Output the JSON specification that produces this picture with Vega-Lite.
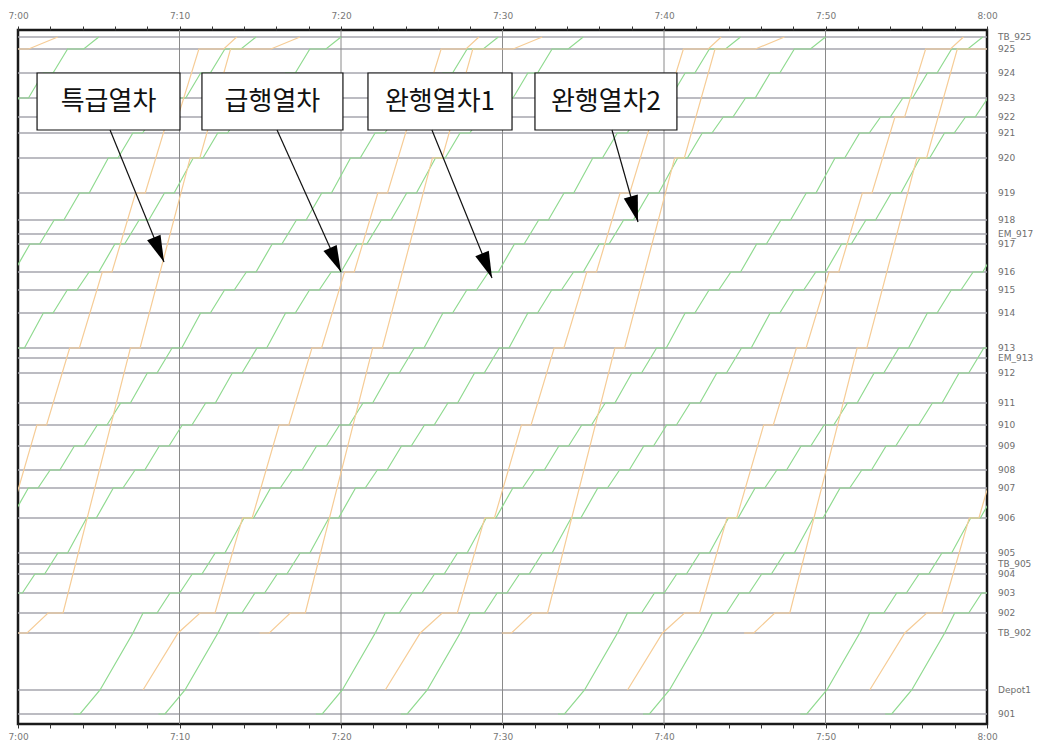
{
  "$schema": "https://vega.github.io/schema/vega-lite/v6.json",
  "width": 969,
  "height": 694,
  "autosize": "none",
  "padding": {"left": 18, "top": 30, "right": 66, "bottom": 25},
  "background": "white",
  "config": {"view": {"stroke": "#1a1a1a", "strokeWidth": 2.5}, "font": "DejaVu Sans"},
  "datasets": {
    "stations": [
      {"s": "TB_925", "d": 33.85}, {"s": "925", "d": 33.25}, {"s": "924", "d": 32.05},
      {"s": "923", "d": 30.8}, {"s": "922", "d": 29.85}, {"s": "921", "d": 29.05},
      {"s": "920", "d": 27.8}, {"s": "919", "d": 26.05}, {"s": "918", "d": 24.7},
      {"s": "EM_917", "d": 24.0}, {"s": "917", "d": 23.5}, {"s": "916", "d": 22.1},
      {"s": "915", "d": 21.2}, {"s": "914", "d": 20.05}, {"s": "913", "d": 18.3},
      {"s": "EM_913", "d": 17.8}, {"s": "912", "d": 17.05}, {"s": "911", "d": 15.55},
      {"s": "910", "d": 14.45}, {"s": "909", "d": 13.4}, {"s": "908", "d": 12.2},
      {"s": "907", "d": 11.3}, {"s": "906", "d": 9.8}, {"s": "905", "d": 8.05},
      {"s": "TB_905", "d": 7.5}, {"s": "904", "d": 7.0}, {"s": "903", "d": 6.05},
      {"s": "902", "d": 5.05}, {"s": "TB_902", "d": 4.05}, {"s": "Depot1", "d": 1.2},
      {"s": "901", "d": 0}
    ],
    "trains": [
      {"k":"g1a","t":-0.26,"s":"916"},{"k":"g1a","t":0.74,"s":"917"},{"k":"g1a","t":1.34,"s":"917"},{"k":"g1a","t":2.24,"s":"918"},{"k":"g1a","t":2.84,"s":"918"},{"k":"g1a","t":3.81,"s":"919"},{"k":"g1a","t":4.41,"s":"919"},{"k":"g1a","t":5.59,"s":"920"},{"k":"g1a","t":6.19,"s":"920"},{"k":"g1a","t":7.11,"s":"921"},{"k":"g1a","t":7.71,"s":"921"},{"k":"g1a","t":8.41,"s":"922"},{"k":"g1a","t":9.01,"s":"922"},{"k":"g1a","t":9.79,"s":"923"},{"k":"g1a","t":10.39,"s":"923"},{"k":"g1a","t":11.31,"s":"924"},{"k":"g1a","t":11.91,"s":"924"},{"k":"g1a","t":12.81,"s":"925"},{"k":"g1a","t":13.81,"s":"925"},{"k":"g1a","t":14.74,"s":"TB_925"},

      {"k":"g1b","t":-0.41,"s":"906"},{"k":"g1b","t":0.64,"s":"907"},{"k":"g1b","t":1.24,"s":"907"},{"k":"g1b","t":1.99,"s":"908"},{"k":"g1b","t":2.59,"s":"908"},{"k":"g1b","t":3.49,"s":"909"},{"k":"g1b","t":4.09,"s":"909"},{"k":"g1b","t":4.91,"s":"910"},{"k":"g1b","t":5.51,"s":"910"},{"k":"g1b","t":6.36,"s":"911"},{"k":"g1b","t":6.96,"s":"911"},{"k":"g1b","t":8.01,"s":"912"},{"k":"g1b","t":8.61,"s":"912"},{"k":"g1b","t":9.54,"s":"913"},{"k":"g1b","t":10.14,"s":"913"},{"k":"g1b","t":11.31,"s":"914"},{"k":"g1b","t":11.91,"s":"914"},{"k":"g1b","t":12.79,"s":"915"},{"k":"g1b","t":13.39,"s":"915"},{"k":"g1b","t":14.14,"s":"916"},{"k":"g1b","t":14.74,"s":"916"},{"k":"g1b","t":15.74,"s":"917"},{"k":"g1b","t":16.34,"s":"917"},{"k":"g1b","t":17.24,"s":"918"},{"k":"g1b","t":17.84,"s":"918"},{"k":"g1b","t":18.81,"s":"919"},{"k":"g1b","t":19.41,"s":"919"},{"k":"g1b","t":20.59,"s":"920"},{"k":"g1b","t":21.19,"s":"920"},{"k":"g1b","t":22.11,"s":"921"},{"k":"g1b","t":22.71,"s":"921"},{"k":"g1b","t":23.41,"s":"922"},{"k":"g1b","t":24.01,"s":"922"},{"k":"g1b","t":24.79,"s":"923"},{"k":"g1b","t":25.39,"s":"923"},{"k":"g1b","t":26.31,"s":"924"},{"k":"g1b","t":26.91,"s":"924"},{"k":"g1b","t":27.81,"s":"925"},{"k":"g1b","t":28.81,"s":"925"},{"k":"g1b","t":29.74,"s":"TB_925"},

      {"k":"g1c","t":3.44,"s":"901"},{"k":"g1c","t":3.84,"s":"901"},{"k":"g1c","t":5.08,"s":"Depot1"},{"k":"g1c","t":7.12,"s":"TB_902"},{"k":"g1c","t":7.74,"s":"902"},{"k":"g1c","t":8.61,"s":"902"},{"k":"g1c","t":9.41,"s":"903"},{"k":"g1c","t":10.01,"s":"903"},{"k":"g1c","t":10.79,"s":"904"},{"k":"g1c","t":11.39,"s":"904"},{"k":"g1c","t":12.21,"s":"905"},{"k":"g1c","t":12.81,"s":"905"},{"k":"g1c","t":13.99,"s":"906"},{"k":"g1c","t":14.59,"s":"906"},{"k":"g1c","t":15.64,"s":"907"},{"k":"g1c","t":16.24,"s":"907"},{"k":"g1c","t":16.99,"s":"908"},{"k":"g1c","t":17.59,"s":"908"},{"k":"g1c","t":18.49,"s":"909"},{"k":"g1c","t":19.09,"s":"909"},{"k":"g1c","t":19.91,"s":"910"},{"k":"g1c","t":20.51,"s":"910"},{"k":"g1c","t":21.36,"s":"911"},{"k":"g1c","t":21.96,"s":"911"},{"k":"g1c","t":23.01,"s":"912"},{"k":"g1c","t":23.61,"s":"912"},{"k":"g1c","t":24.54,"s":"913"},{"k":"g1c","t":25.14,"s":"913"},{"k":"g1c","t":26.31,"s":"914"},{"k":"g1c","t":26.91,"s":"914"},{"k":"g1c","t":27.79,"s":"915"},{"k":"g1c","t":28.39,"s":"915"},{"k":"g1c","t":29.14,"s":"916"},{"k":"g1c","t":29.74,"s":"916"},{"k":"g1c","t":30.74,"s":"917"},{"k":"g1c","t":31.34,"s":"917"},{"k":"g1c","t":32.24,"s":"918"},{"k":"g1c","t":32.84,"s":"918"},{"k":"g1c","t":33.81,"s":"919"},{"k":"g1c","t":34.41,"s":"919"},{"k":"g1c","t":35.59,"s":"920"},{"k":"g1c","t":36.19,"s":"920"},{"k":"g1c","t":37.11,"s":"921"},{"k":"g1c","t":37.71,"s":"921"},{"k":"g1c","t":38.41,"s":"922"},{"k":"g1c","t":39.01,"s":"922"},{"k":"g1c","t":39.79,"s":"923"},{"k":"g1c","t":40.39,"s":"923"},{"k":"g1c","t":41.31,"s":"924"},{"k":"g1c","t":41.91,"s":"924"},{"k":"g1c","t":42.81,"s":"925"},{"k":"g1c","t":43.81,"s":"925"},{"k":"g1c","t":44.74,"s":"TB_925"},

      {"k":"g1d","t":18.44,"s":"901"},{"k":"g1d","t":18.84,"s":"901"},{"k":"g1d","t":20.08,"s":"Depot1"},{"k":"g1d","t":22.12,"s":"TB_902"},{"k":"g1d","t":22.74,"s":"902"},{"k":"g1d","t":23.61,"s":"902"},{"k":"g1d","t":24.41,"s":"903"},{"k":"g1d","t":25.01,"s":"903"},{"k":"g1d","t":25.79,"s":"904"},{"k":"g1d","t":26.39,"s":"904"},{"k":"g1d","t":27.21,"s":"905"},{"k":"g1d","t":27.81,"s":"905"},{"k":"g1d","t":28.99,"s":"906"},{"k":"g1d","t":29.59,"s":"906"},{"k":"g1d","t":30.64,"s":"907"},{"k":"g1d","t":31.24,"s":"907"},{"k":"g1d","t":31.99,"s":"908"},{"k":"g1d","t":32.59,"s":"908"},{"k":"g1d","t":33.49,"s":"909"},{"k":"g1d","t":34.09,"s":"909"},{"k":"g1d","t":34.91,"s":"910"},{"k":"g1d","t":35.51,"s":"910"},{"k":"g1d","t":36.36,"s":"911"},{"k":"g1d","t":36.96,"s":"911"},{"k":"g1d","t":38.01,"s":"912"},{"k":"g1d","t":38.61,"s":"912"},{"k":"g1d","t":39.54,"s":"913"},{"k":"g1d","t":40.14,"s":"913"},{"k":"g1d","t":41.31,"s":"914"},{"k":"g1d","t":41.91,"s":"914"},{"k":"g1d","t":42.79,"s":"915"},{"k":"g1d","t":43.39,"s":"915"},{"k":"g1d","t":44.14,"s":"916"},{"k":"g1d","t":44.74,"s":"916"},{"k":"g1d","t":45.74,"s":"917"},{"k":"g1d","t":46.34,"s":"917"},{"k":"g1d","t":47.24,"s":"918"},{"k":"g1d","t":47.84,"s":"918"},{"k":"g1d","t":48.81,"s":"919"},{"k":"g1d","t":49.41,"s":"919"},{"k":"g1d","t":50.59,"s":"920"},{"k":"g1d","t":51.19,"s":"920"},{"k":"g1d","t":52.11,"s":"921"},{"k":"g1d","t":52.71,"s":"921"},{"k":"g1d","t":53.41,"s":"922"},{"k":"g1d","t":54.01,"s":"922"},{"k":"g1d","t":54.79,"s":"923"},{"k":"g1d","t":55.39,"s":"923"},{"k":"g1d","t":56.31,"s":"924"},{"k":"g1d","t":56.91,"s":"924"},{"k":"g1d","t":57.81,"s":"925"},{"k":"g1d","t":58.81,"s":"925"},{"k":"g1d","t":59.74,"s":"TB_925"},

      {"k":"g1e","t":33.44,"s":"901"},{"k":"g1e","t":33.84,"s":"901"},{"k":"g1e","t":35.08,"s":"Depot1"},{"k":"g1e","t":37.12,"s":"TB_902"},{"k":"g1e","t":37.74,"s":"902"},{"k":"g1e","t":38.61,"s":"902"},{"k":"g1e","t":39.41,"s":"903"},{"k":"g1e","t":40.01,"s":"903"},{"k":"g1e","t":40.79,"s":"904"},{"k":"g1e","t":41.39,"s":"904"},{"k":"g1e","t":42.21,"s":"905"},{"k":"g1e","t":42.81,"s":"905"},{"k":"g1e","t":43.99,"s":"906"},{"k":"g1e","t":44.59,"s":"906"},{"k":"g1e","t":45.64,"s":"907"},{"k":"g1e","t":46.24,"s":"907"},{"k":"g1e","t":46.99,"s":"908"},{"k":"g1e","t":47.59,"s":"908"},{"k":"g1e","t":48.49,"s":"909"},{"k":"g1e","t":49.09,"s":"909"},{"k":"g1e","t":49.91,"s":"910"},{"k":"g1e","t":50.51,"s":"910"},{"k":"g1e","t":51.36,"s":"911"},{"k":"g1e","t":51.96,"s":"911"},{"k":"g1e","t":53.01,"s":"912"},{"k":"g1e","t":53.61,"s":"912"},{"k":"g1e","t":54.54,"s":"913"},{"k":"g1e","t":55.14,"s":"913"},{"k":"g1e","t":56.31,"s":"914"},{"k":"g1e","t":56.91,"s":"914"},{"k":"g1e","t":57.79,"s":"915"},{"k":"g1e","t":58.39,"s":"915"},{"k":"g1e","t":59.14,"s":"916"},{"k":"g1e","t":59.74,"s":"916"},{"k":"g1e","t":60.74,"s":"917"},

      {"k":"g1f","t":48.44,"s":"901"},{"k":"g1f","t":48.84,"s":"901"},{"k":"g1f","t":50.08,"s":"Depot1"},{"k":"g1f","t":52.12,"s":"TB_902"},{"k":"g1f","t":52.74,"s":"902"},{"k":"g1f","t":53.61,"s":"902"},{"k":"g1f","t":54.41,"s":"903"},{"k":"g1f","t":55.01,"s":"903"},{"k":"g1f","t":55.79,"s":"904"},{"k":"g1f","t":56.39,"s":"904"},{"k":"g1f","t":57.21,"s":"905"},{"k":"g1f","t":57.81,"s":"905"},{"k":"g1f","t":58.99,"s":"906"},{"k":"g1f","t":59.59,"s":"906"},{"k":"g1f","t":60.64,"s":"907"},

      {"k":"g2a","t":-0.73,"s":"922"},{"k":"g2a","t":0.05,"s":"923"},{"k":"g2a","t":0.65,"s":"923"},{"k":"g2a","t":1.57,"s":"924"},{"k":"g2a","t":2.17,"s":"924"},{"k":"g2a","t":3.07,"s":"925"},{"k":"g2a","t":4.07,"s":"925"},{"k":"g2a","t":5.0,"s":"TB_925"},

      {"k":"g2b","t":-0.2,"s":"913"},{"k":"g2b","t":0.4,"s":"913"},{"k":"g2b","t":1.57,"s":"914"},{"k":"g2b","t":2.17,"s":"914"},{"k":"g2b","t":3.05,"s":"915"},{"k":"g2b","t":3.65,"s":"915"},{"k":"g2b","t":4.4,"s":"916"},{"k":"g2b","t":5.0,"s":"916"},{"k":"g2b","t":6.0,"s":"917"},{"k":"g2b","t":6.6,"s":"917"},{"k":"g2b","t":7.5,"s":"918"},{"k":"g2b","t":8.1,"s":"918"},{"k":"g2b","t":9.07,"s":"919"},{"k":"g2b","t":9.67,"s":"919"},{"k":"g2b","t":10.85,"s":"920"},{"k":"g2b","t":11.45,"s":"920"},{"k":"g2b","t":12.37,"s":"921"},{"k":"g2b","t":12.97,"s":"921"},{"k":"g2b","t":13.67,"s":"922"},{"k":"g2b","t":14.27,"s":"922"},{"k":"g2b","t":15.05,"s":"923"},{"k":"g2b","t":15.65,"s":"923"},{"k":"g2b","t":16.57,"s":"924"},{"k":"g2b","t":17.17,"s":"924"},{"k":"g2b","t":18.07,"s":"925"},{"k":"g2b","t":19.07,"s":"925"},{"k":"g2b","t":20.0,"s":"TB_925"},

      {"k":"g2c","t":-0.33,"s":"903"},{"k":"g2c","t":0.27,"s":"903"},{"k":"g2c","t":1.05,"s":"904"},{"k":"g2c","t":1.65,"s":"904"},{"k":"g2c","t":2.47,"s":"905"},{"k":"g2c","t":3.07,"s":"905"},{"k":"g2c","t":4.25,"s":"906"},{"k":"g2c","t":4.85,"s":"906"},{"k":"g2c","t":5.9,"s":"907"},{"k":"g2c","t":6.5,"s":"907"},{"k":"g2c","t":7.25,"s":"908"},{"k":"g2c","t":7.85,"s":"908"},{"k":"g2c","t":8.75,"s":"909"},{"k":"g2c","t":9.35,"s":"909"},{"k":"g2c","t":10.17,"s":"910"},{"k":"g2c","t":10.77,"s":"910"},{"k":"g2c","t":11.62,"s":"911"},{"k":"g2c","t":12.22,"s":"911"},{"k":"g2c","t":13.27,"s":"912"},{"k":"g2c","t":13.87,"s":"912"},{"k":"g2c","t":14.8,"s":"913"},{"k":"g2c","t":15.4,"s":"913"},{"k":"g2c","t":16.57,"s":"914"},{"k":"g2c","t":17.17,"s":"914"},{"k":"g2c","t":18.05,"s":"915"},{"k":"g2c","t":18.65,"s":"915"},{"k":"g2c","t":19.4,"s":"916"},{"k":"g2c","t":20.0,"s":"916"},{"k":"g2c","t":21.0,"s":"917"},{"k":"g2c","t":21.6,"s":"917"},{"k":"g2c","t":22.5,"s":"918"},{"k":"g2c","t":23.1,"s":"918"},{"k":"g2c","t":24.07,"s":"919"},{"k":"g2c","t":24.67,"s":"919"},{"k":"g2c","t":25.85,"s":"920"},{"k":"g2c","t":26.45,"s":"920"},{"k":"g2c","t":27.37,"s":"921"},{"k":"g2c","t":27.97,"s":"921"},{"k":"g2c","t":28.67,"s":"922"},{"k":"g2c","t":29.27,"s":"922"},{"k":"g2c","t":30.05,"s":"923"},{"k":"g2c","t":30.65,"s":"923"},{"k":"g2c","t":31.57,"s":"924"},{"k":"g2c","t":32.17,"s":"924"},{"k":"g2c","t":33.07,"s":"925"},{"k":"g2c","t":34.07,"s":"925"},{"k":"g2c","t":35.0,"s":"TB_925"},

      {"k":"g2d","t":8.7,"s":"901"},{"k":"g2d","t":9.1,"s":"901"},{"k":"g2d","t":10.34,"s":"Depot1"},{"k":"g2d","t":12.38,"s":"TB_902"},{"k":"g2d","t":13.0,"s":"902"},{"k":"g2d","t":13.87,"s":"902"},{"k":"g2d","t":14.67,"s":"903"},{"k":"g2d","t":15.27,"s":"903"},{"k":"g2d","t":16.05,"s":"904"},{"k":"g2d","t":16.65,"s":"904"},{"k":"g2d","t":17.47,"s":"905"},{"k":"g2d","t":18.07,"s":"905"},{"k":"g2d","t":19.25,"s":"906"},{"k":"g2d","t":19.85,"s":"906"},{"k":"g2d","t":20.9,"s":"907"},{"k":"g2d","t":21.5,"s":"907"},{"k":"g2d","t":22.25,"s":"908"},{"k":"g2d","t":22.85,"s":"908"},{"k":"g2d","t":23.75,"s":"909"},{"k":"g2d","t":24.35,"s":"909"},{"k":"g2d","t":25.17,"s":"910"},{"k":"g2d","t":25.77,"s":"910"},{"k":"g2d","t":26.62,"s":"911"},{"k":"g2d","t":27.22,"s":"911"},{"k":"g2d","t":28.27,"s":"912"},{"k":"g2d","t":28.87,"s":"912"},{"k":"g2d","t":29.8,"s":"913"},{"k":"g2d","t":30.4,"s":"913"},{"k":"g2d","t":31.57,"s":"914"},{"k":"g2d","t":32.17,"s":"914"},{"k":"g2d","t":33.05,"s":"915"},{"k":"g2d","t":33.65,"s":"915"},{"k":"g2d","t":34.4,"s":"916"},{"k":"g2d","t":35.0,"s":"916"},{"k":"g2d","t":36.0,"s":"917"},{"k":"g2d","t":36.6,"s":"917"},{"k":"g2d","t":37.5,"s":"918"},{"k":"g2d","t":38.1,"s":"918"},{"k":"g2d","t":39.07,"s":"919"},{"k":"g2d","t":39.67,"s":"919"},{"k":"g2d","t":40.85,"s":"920"},{"k":"g2d","t":41.45,"s":"920"},{"k":"g2d","t":42.37,"s":"921"},{"k":"g2d","t":42.97,"s":"921"},{"k":"g2d","t":43.67,"s":"922"},{"k":"g2d","t":44.27,"s":"922"},{"k":"g2d","t":45.05,"s":"923"},{"k":"g2d","t":45.65,"s":"923"},{"k":"g2d","t":46.57,"s":"924"},{"k":"g2d","t":47.17,"s":"924"},{"k":"g2d","t":48.07,"s":"925"},{"k":"g2d","t":49.07,"s":"925"},{"k":"g2d","t":50.0,"s":"TB_925"},

      {"k":"g2e","t":23.7,"s":"901"},{"k":"g2e","t":24.1,"s":"901"},{"k":"g2e","t":25.34,"s":"Depot1"},{"k":"g2e","t":27.38,"s":"TB_902"},{"k":"g2e","t":28.0,"s":"902"},{"k":"g2e","t":28.87,"s":"902"},{"k":"g2e","t":29.67,"s":"903"},{"k":"g2e","t":30.27,"s":"903"},{"k":"g2e","t":31.05,"s":"904"},{"k":"g2e","t":31.65,"s":"904"},{"k":"g2e","t":32.47,"s":"905"},{"k":"g2e","t":33.07,"s":"905"},{"k":"g2e","t":34.25,"s":"906"},{"k":"g2e","t":34.85,"s":"906"},{"k":"g2e","t":35.9,"s":"907"},{"k":"g2e","t":36.5,"s":"907"},{"k":"g2e","t":37.25,"s":"908"},{"k":"g2e","t":37.85,"s":"908"},{"k":"g2e","t":38.75,"s":"909"},{"k":"g2e","t":39.35,"s":"909"},{"k":"g2e","t":40.17,"s":"910"},{"k":"g2e","t":40.77,"s":"910"},{"k":"g2e","t":41.62,"s":"911"},{"k":"g2e","t":42.22,"s":"911"},{"k":"g2e","t":43.27,"s":"912"},{"k":"g2e","t":43.87,"s":"912"},{"k":"g2e","t":44.8,"s":"913"},{"k":"g2e","t":45.4,"s":"913"},{"k":"g2e","t":46.57,"s":"914"},{"k":"g2e","t":47.17,"s":"914"},{"k":"g2e","t":48.05,"s":"915"},{"k":"g2e","t":48.65,"s":"915"},{"k":"g2e","t":49.4,"s":"916"},{"k":"g2e","t":50.0,"s":"916"},{"k":"g2e","t":51.0,"s":"917"},{"k":"g2e","t":51.6,"s":"917"},{"k":"g2e","t":52.5,"s":"918"},{"k":"g2e","t":53.1,"s":"918"},{"k":"g2e","t":54.07,"s":"919"},{"k":"g2e","t":54.67,"s":"919"},{"k":"g2e","t":55.85,"s":"920"},{"k":"g2e","t":56.45,"s":"920"},{"k":"g2e","t":57.37,"s":"921"},{"k":"g2e","t":57.97,"s":"921"},{"k":"g2e","t":58.67,"s":"922"},{"k":"g2e","t":59.27,"s":"922"},{"k":"g2e","t":60.05,"s":"923"},

      {"k":"g2f","t":38.7,"s":"901"},{"k":"g2f","t":39.1,"s":"901"},{"k":"g2f","t":40.34,"s":"Depot1"},{"k":"g2f","t":42.38,"s":"TB_902"},{"k":"g2f","t":43.0,"s":"902"},{"k":"g2f","t":43.87,"s":"902"},{"k":"g2f","t":44.67,"s":"903"},{"k":"g2f","t":45.27,"s":"903"},{"k":"g2f","t":46.05,"s":"904"},{"k":"g2f","t":46.65,"s":"904"},{"k":"g2f","t":47.47,"s":"905"},{"k":"g2f","t":48.07,"s":"905"},{"k":"g2f","t":49.25,"s":"906"},{"k":"g2f","t":49.85,"s":"906"},{"k":"g2f","t":50.9,"s":"907"},{"k":"g2f","t":51.5,"s":"907"},{"k":"g2f","t":52.25,"s":"908"},{"k":"g2f","t":52.85,"s":"908"},{"k":"g2f","t":53.75,"s":"909"},{"k":"g2f","t":54.35,"s":"909"},{"k":"g2f","t":55.17,"s":"910"},{"k":"g2f","t":55.77,"s":"910"},{"k":"g2f","t":56.62,"s":"911"},{"k":"g2f","t":57.22,"s":"911"},{"k":"g2f","t":58.27,"s":"912"},{"k":"g2f","t":58.87,"s":"912"},{"k":"g2f","t":59.8,"s":"913"},{"k":"g2f","t":60.4,"s":"913"},

      {"k":"g2g","t":53.7,"s":"901"},{"k":"g2g","t":54.1,"s":"901"},{"k":"g2g","t":55.34,"s":"Depot1"},{"k":"g2g","t":57.38,"s":"TB_902"},{"k":"g2g","t":58.0,"s":"902"},{"k":"g2g","t":58.87,"s":"902"},{"k":"g2g","t":59.67,"s":"903"},{"k":"g2g","t":60.27,"s":"903"},

      {"k":"oA1","t":-1.84,"s":"925"},{"k":"oA1","t":0.66,"s":"925"},{"k":"oA1","t":2.46,"s":"TB_925"},

      {"k":"oA2","t":-0.04,"s":"TB_902"},{"k":"oA2","t":0.56,"s":"TB_902"},{"k":"oA2","t":1.86,"s":"902"},{"k":"oA2","t":2.79,"s":"902"},{"k":"oA2","t":6.96,"s":"913"},{"k":"oA2","t":7.56,"s":"913"},{"k":"oA2","t":10.66,"s":"920"},{"k":"oA2","t":11.26,"s":"920"},{"k":"oA2","t":13.16,"s":"925"},{"k":"oA2","t":15.66,"s":"925"},{"k":"oA2","t":17.46,"s":"TB_925"},

      {"k":"oA3","t":14.96,"s":"TB_902"},{"k":"oA3","t":15.56,"s":"TB_902"},{"k":"oA3","t":16.86,"s":"902"},{"k":"oA3","t":17.79,"s":"902"},{"k":"oA3","t":21.96,"s":"913"},{"k":"oA3","t":22.56,"s":"913"},{"k":"oA3","t":25.66,"s":"920"},{"k":"oA3","t":26.26,"s":"920"},{"k":"oA3","t":28.16,"s":"925"},{"k":"oA3","t":30.66,"s":"925"},{"k":"oA3","t":32.46,"s":"TB_925"},

      {"k":"oA4","t":29.96,"s":"TB_902"},{"k":"oA4","t":30.56,"s":"TB_902"},{"k":"oA4","t":31.86,"s":"902"},{"k":"oA4","t":32.79,"s":"902"},{"k":"oA4","t":36.96,"s":"913"},{"k":"oA4","t":37.56,"s":"913"},{"k":"oA4","t":40.66,"s":"920"},{"k":"oA4","t":41.26,"s":"920"},{"k":"oA4","t":43.16,"s":"925"},{"k":"oA4","t":45.66,"s":"925"},{"k":"oA4","t":47.46,"s":"TB_925"},

      {"k":"oA5","t":44.96,"s":"TB_902"},{"k":"oA5","t":45.56,"s":"TB_902"},{"k":"oA5","t":46.86,"s":"902"},{"k":"oA5","t":47.79,"s":"902"},{"k":"oA5","t":51.96,"s":"913"},{"k":"oA5","t":52.56,"s":"913"},{"k":"oA5","t":55.66,"s":"920"},{"k":"oA5","t":56.26,"s":"920"},{"k":"oA5","t":58.16,"s":"925"},{"k":"oA5","t":60.66,"s":"925"},

      {"k":"oB1","t":-0.5,"s":"906"},{"k":"oB1","t":1.17,"s":"910"},{"k":"oB1","t":1.77,"s":"910"},{"k":"oB1","t":3.2,"s":"913"},{"k":"oB1","t":3.8,"s":"913"},{"k":"oB1","t":5.22,"s":"916"},{"k":"oB1","t":5.82,"s":"916"},{"k":"oB1","t":7.28,"s":"919"},{"k":"oB1","t":7.88,"s":"919"},{"k":"oB1","t":9.3,"s":"922"},{"k":"oB1","t":9.9,"s":"922"},{"k":"oB1","t":11.2,"s":"925"},{"k":"oB1","t":12.74,"s":"925"},{"k":"oB1","t":13.54,"s":"TB_925"},

      {"k":"oB2","t":7.74,"s":"Depot1"},{"k":"oB2","t":9.91,"s":"TB_902"},{"k":"oB2","t":11.27,"s":"902"},{"k":"oB2","t":12.2,"s":"902"},{"k":"oB2","t":13.9,"s":"906"},{"k":"oB2","t":14.5,"s":"906"},{"k":"oB2","t":16.17,"s":"910"},{"k":"oB2","t":16.77,"s":"910"},{"k":"oB2","t":18.2,"s":"913"},{"k":"oB2","t":18.8,"s":"913"},{"k":"oB2","t":20.22,"s":"916"},{"k":"oB2","t":20.82,"s":"916"},{"k":"oB2","t":22.28,"s":"919"},{"k":"oB2","t":22.88,"s":"919"},{"k":"oB2","t":24.3,"s":"922"},{"k":"oB2","t":24.9,"s":"922"},{"k":"oB2","t":26.2,"s":"925"},{"k":"oB2","t":27.74,"s":"925"},{"k":"oB2","t":28.54,"s":"TB_925"},

      {"k":"oB3","t":22.74,"s":"Depot1"},{"k":"oB3","t":24.91,"s":"TB_902"},{"k":"oB3","t":26.27,"s":"902"},{"k":"oB3","t":27.2,"s":"902"},{"k":"oB3","t":28.9,"s":"906"},{"k":"oB3","t":29.5,"s":"906"},{"k":"oB3","t":31.17,"s":"910"},{"k":"oB3","t":31.77,"s":"910"},{"k":"oB3","t":33.2,"s":"913"},{"k":"oB3","t":33.8,"s":"913"},{"k":"oB3","t":35.22,"s":"916"},{"k":"oB3","t":35.82,"s":"916"},{"k":"oB3","t":37.28,"s":"919"},{"k":"oB3","t":37.88,"s":"919"},{"k":"oB3","t":39.3,"s":"922"},{"k":"oB3","t":39.9,"s":"922"},{"k":"oB3","t":41.2,"s":"925"},{"k":"oB3","t":42.74,"s":"925"},{"k":"oB3","t":43.54,"s":"TB_925"},

      {"k":"oB4","t":37.74,"s":"Depot1"},{"k":"oB4","t":39.91,"s":"TB_902"},{"k":"oB4","t":41.27,"s":"902"},{"k":"oB4","t":42.2,"s":"902"},{"k":"oB4","t":43.9,"s":"906"},{"k":"oB4","t":44.5,"s":"906"},{"k":"oB4","t":46.17,"s":"910"},{"k":"oB4","t":46.77,"s":"910"},{"k":"oB4","t":48.2,"s":"913"},{"k":"oB4","t":48.8,"s":"913"},{"k":"oB4","t":50.22,"s":"916"},{"k":"oB4","t":50.82,"s":"916"},{"k":"oB4","t":52.28,"s":"919"},{"k":"oB4","t":52.88,"s":"919"},{"k":"oB4","t":54.3,"s":"922"},{"k":"oB4","t":54.9,"s":"922"},{"k":"oB4","t":56.2,"s":"925"},{"k":"oB4","t":57.74,"s":"925"},{"k":"oB4","t":58.54,"s":"TB_925"},

      {"k":"oB5","t":52.74,"s":"Depot1"},{"k":"oB5","t":54.91,"s":"TB_902"},{"k":"oB5","t":56.27,"s":"902"},{"k":"oB5","t":57.2,"s":"902"},{"k":"oB5","t":58.9,"s":"906"},{"k":"oB5","t":59.5,"s":"906"},{"k":"oB5","t":61.17,"s":"910"}
    ],
    "boxes": [
      {"label": "특급열차", "x1": 1.18, "x2": 10.03},
      {"label": "급행열차", "x1": 11.39, "x2": 20.12},
      {"label": "완행열차1", "x1": 21.67, "x2": 30.59},
      {"label": "완행열차2", "x1": 32.01, "x2": 40.8}
    ],
    "arrows": [
      {"x1": 5.7, "y1": 29.2, "x2": 9.04, "y2": 22.6, "ang": 337.4},
      {"x1": 16.04, "y1": 29.2, "x2": 20.0, "y2": 22.1, "ang": 335.6},
      {"x1": 25.63, "y1": 29.2, "x2": 29.35, "y2": 21.8, "ang": 337.9},
      {"x1": 36.78, "y1": 29.2, "x2": 38.39, "y2": 24.6, "ang": 344.2}
    ]
  },
  "resolve": {"axis": {"x": "independent"}},
  "layer": [
    {
      "data": {"values": [{"v": 0}]},
      "mark": {"type": "tick", "opacity": 0},
      "encoding": {
        "x": {"datum": 0, "type": "quantitative", "scale": {"domain": [0, 60], "nice": false, "zero": false},
          "axis": {"orient": "bottom", "values": [0,2,4,6,8,10,12,14,16,18,20,22,24,26,28,30,32,34,36,38,40,42,44,46,48,50,52,54,56,58,60],
            "labelExpr": "datum.value % 10 != 0 ? '' : (datum.value == 60 ? '8:00' : (datum.value == 0 ? '7:00' : '7:' + datum.value))",
            "title": null, "domain": false, "grid": false, "tickSize": 4, "tickColor": "#333", "labelColor": "#777", "labelFontSize": 9, "labelPadding": 4, "labelFlush": false}}
      }
    },
    {
      "data": {"values": [{"v": 0}]},
      "mark": {"type": "tick", "opacity": 0},
      "encoding": {
        "x": {"datum": 0, "type": "quantitative",
          "axis": {"orient": "top", "values": [0,2,4,6,8,10,12,14,16,18,20,22,24,26,28,30,32,34,36,38,40,42,44,46,48,50,52,54,56,58,60],
            "labelExpr": "datum.value % 10 != 0 ? '' : (datum.value == 60 ? '8:00' : (datum.value == 0 ? '7:00' : '7:' + datum.value))",
            "title": null, "domain": false, "grid": false, "tickSize": 4, "tickColor": "#333", "labelColor": "#777", "labelFontSize": 9, "labelPadding": 6, "labelFlush": false}}
      }
    },
    {
      "data": {"name": "stations"},
      "mark": {"type": "rule", "color": "#a6a6ae", "strokeWidth": 1.5},
      "encoding": {
        "y": {"field": "d", "type": "quantitative", "scale": {"domain": [-0.5, 34.2], "nice": false, "zero": false}, "axis": null}
      }
    },
    {
      "data": {"values": [{"t": 10}, {"t": 20}, {"t": 30}, {"t": 40}, {"t": 50}]},
      "mark": {"type": "rule", "color": "#8a8a8a", "strokeWidth": 1},
      "encoding": {"x": {"field": "t", "type": "quantitative", "axis": null}}
    },
    {
      "data": {"name": "trains"},
      "transform": [{"lookup": "s", "from": {"data": {"name": "stations"}, "key": "s", "fields": ["d"]}}],
      "mark": {"type": "line", "strokeWidth": 1.2, "clip": true, "interpolate": "linear"},
      "encoding": {
        "x": {"field": "t", "type": "quantitative", "axis": null},
        "y": {"field": "d", "type": "quantitative", "axis": null},
        "detail": {"field": "k"},
        "color": {"condition": {"test": "indexof(datum.k, 'o') == 0", "value": "#f6cc96"}, "value": "#8fda8f"}
      }
    },
    {
      "data": {"name": "stations"},
      "mark": {"type": "text", "align": "left", "baseline": "middle", "dx": 11, "fontSize": 9, "color": "#6e6e6e"},
      "encoding": {
        "x": {"datum": 60, "type": "quantitative", "axis": null},
        "y": {"field": "d", "type": "quantitative", "axis": null},
        "text": {"field": "s"}
      }
    },
    {
      "data": {"name": "boxes"},
      "mark": {"type": "rect", "fill": "white", "stroke": "#111", "strokeWidth": 1.2},
      "encoding": {
        "x": {"field": "x1", "type": "quantitative", "axis": null},
        "x2": {"field": "x2"},
        "y": {"datum": 32.05, "type": "quantitative", "axis": null},
        "y2": {"datum": 29.2}
      }
    },
    {
      "data": {"name": "boxes"},
      "transform": [
        {"fold": ["x1", "x2"], "as": ["edge", "xv"]},
        {"aggregate": [{"op": "mean", "field": "xv", "as": "xm"}], "groupby": ["label"]}
      ],
      "mark": {"type": "text", "align": "center", "baseline": "middle", "fontSize": 26, "font": "Noto Sans CJK KR", "color": "#111"},
      "encoding": {
        "x": {"field": "xm", "type": "quantitative", "axis": null},
        "y": {"datum": 30.62, "type": "quantitative", "axis": null},
        "text": {"field": "label"}
      }
    },
    {
      "data": {"name": "arrows"},
      "mark": {"type": "rule", "color": "#111", "strokeWidth": 1.2},
      "encoding": {
        "x": {"field": "x1", "type": "quantitative", "axis": null},
        "y": {"field": "y1", "type": "quantitative", "axis": null},
        "x2": {"field": "x2"},
        "y2": {"field": "y2"}
      }
    },
    {
      "data": {"name": "arrows"},
      "mark": {"type": "point", "shape": "M-0.55,-2L0.55,-2L0,0Z", "filled": true, "color": "#000", "opacity": 1, "size": 700, "strokeWidth": 0},
      "encoding": {
        "x": {"field": "x2", "type": "quantitative", "axis": null},
        "y": {"field": "y2", "type": "quantitative", "axis": null},
        "angle": {"field": "ang", "type": "quantitative", "scale": null}
      }
    }
  ]
}
